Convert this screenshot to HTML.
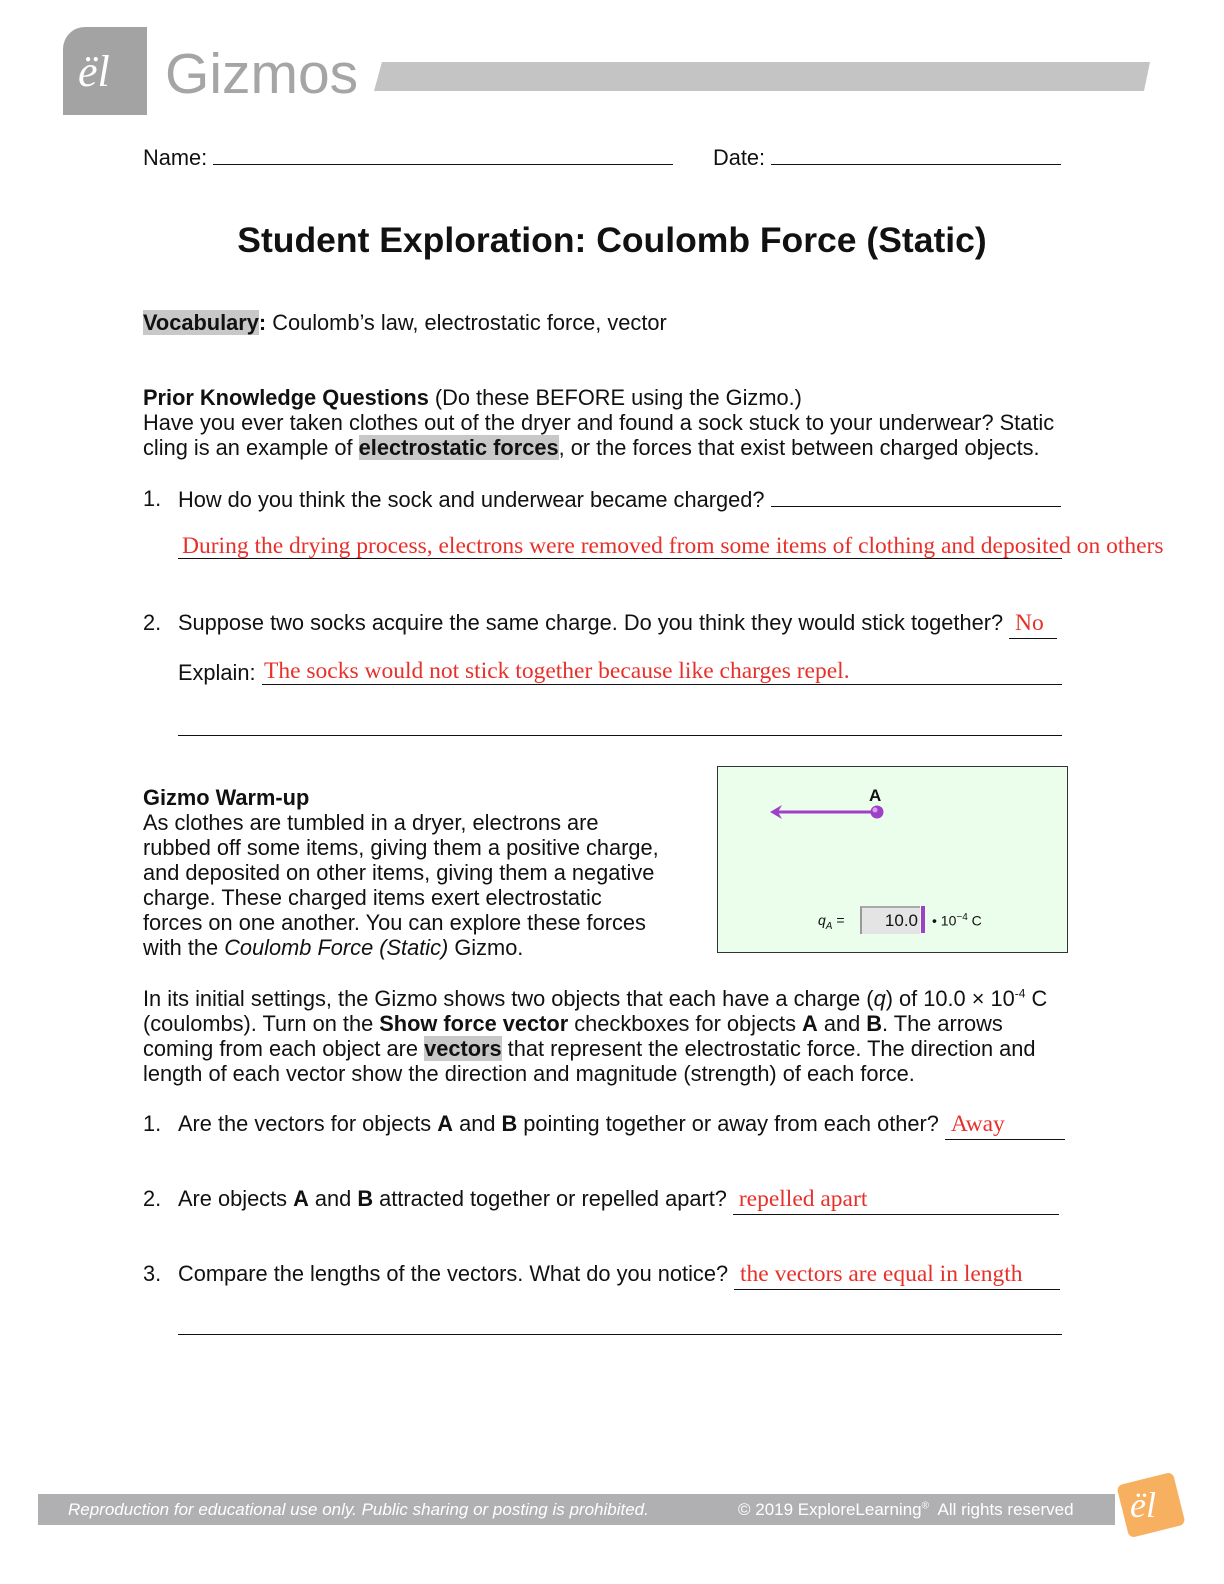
<!DOCTYPE html>
<html><head><meta charset="utf-8"><style>
body{margin:0;width:1224px;height:1584px;background:#fff;position:relative;font-family:"Liberation Sans",Arial,sans-serif;font-size:21.8px;color:#111;overflow:hidden}
.a{position:absolute;white-space:nowrap;line-height:29px}
.r{color:#e8302a;font-family:"Liberation Serif",serif;font-size:23.5px}
.u{border-bottom:1px solid #111}
.hl{background:#c8c8c8}
</style></head><body>
<div style="position:absolute;left:63px;top:27px;width:84px;height:88px;background:#a3a3a3;border-top-left-radius:22px"></div>
<div class="a" style="left:78px;top:50px;font-family:'Liberation Serif',serif;font-style:italic;font-size:44px;color:#fff;line-height:44px">ël</div>
<div class="a" style="left:165px;top:44px;font-size:57px;color:#a5a5a5;line-height:60px">Gizmos</div>
<div style="position:absolute;left:374px;top:62px;width:776px;height:29px;background:#c4c4c4;clip-path:polygon(8px 0,100% 0,calc(100% - 6px) 100%,0 100%)"></div>

<div class="a" style="left:143px;top:142px">Name: <span class="u" style="display:inline-block;width:460px;height:22px"></span></div>
<div class="a" style="left:713px;top:142px">Date: <span class="u" style="display:inline-block;width:290px;height:22px"></span></div>

<div class="a" style="left:0;width:1224px;text-align:center;top:220px;font-size:35.5px;font-weight:bold;line-height:40px">Student Exploration: Coulomb Force (Static)</div>

<div class="a" style="left:143px;top:308px"><b class="hl">Vocabulary</b><b>:</b> Coulomb’s law, electrostatic force, vector</div>

<div class="a" style="left:143px;top:383px"><b>Prior Knowledge Questions</b> (Do these BEFORE using the Gizmo.)</div>
<div class="a" style="left:143px;top:408px">Have you ever taken clothes out of the dryer and found a sock stuck to your underwear? Static</div>
<div class="a" style="left:143px;top:433px">cling is an example of <b class="hl">electrostatic forces</b>, or the forces that exist between charged objects.</div>

<div class="a" style="left:143px;top:484px">1.</div>
<div class="a" style="left:178px;top:484px">How do you think the sock and underwear became charged? <span class="u" style="display:inline-block;width:290px;height:22px"></span></div>
<div style="position:absolute;left:178px;top:558px;width:884px;border-top:1px solid #111"></div>
<div class="a r" style="left:182px;top:532px">During the drying process, electrons were removed from some items of clothing and deposited on others</div>

<div class="a" style="left:143px;top:608px">2.</div>
<div class="a" style="left:178px;top:608px">Suppose two socks acquire the same charge. Do you think they would stick together? <span class="u r" style="display:inline-block;width:48px">&nbsp;No</span></div>
<div class="a" style="left:178px;top:658px">Explain: </div>
<div style="position:absolute;left:262px;top:684px;width:800px;border-top:1px solid #111"></div>
<div class="a r" style="left:264px;top:657px">The socks would not stick together because like charges repel.</div>
<div style="position:absolute;left:178px;top:735px;width:884px;border-top:1px solid #111"></div>

<div class="a" style="left:143px;top:783px"><b>Gizmo Warm-up</b></div>
<div class="a" style="left:143px;top:808px">As clothes are tumbled in a dryer, electrons are</div>
<div class="a" style="left:143px;top:833px">rubbed off some items, giving them a positive charge,</div>
<div class="a" style="left:143px;top:858px">and deposited on other items, giving them a negative</div>
<div class="a" style="left:143px;top:883px">charge. These charged items exert electrostatic</div>
<div class="a" style="left:143px;top:908px">forces on one another. You can explore these forces</div>
<div class="a" style="left:143px;top:933px">with the <i>Coulomb Force (Static)</i> Gizmo.</div>

<div style="position:absolute;left:717px;top:766px;width:349px;height:185px;background:#ebfdeb;border:1.5px solid #333"></div>
<div class="a" style="left:869px;top:781px;font-weight:bold;font-size:17px">A</div>
<svg style="position:absolute;left:760px;top:800px" width="130" height="25"><line x1="14" y1="12" x2="116" y2="12" stroke="#a040c8" stroke-width="3"/><path d="M10 12 L22 5 L18 12 L22 19Z" fill="#a040c8"/><circle cx="117" cy="12" r="6.5" fill="#a040c8"/><circle cx="115" cy="10" r="2.5" fill="#d8a0f0"/></svg>
<div class="a" style="left:818px;top:906px;font-size:14px"><i>q<sub style="font-size:10px">A</sub></i> =</div>
<div style="position:absolute;left:860px;top:906px;width:56px;height:26px;background:#e4e4e4;border-left:2px solid #999;border-top:2px solid #aaa;font-size:17px;text-align:right;line-height:26px;padding-right:2px">10.0</div>
<div style="position:absolute;left:921px;top:906px;width:4px;height:27px;background:#a040c8"></div>
<div class="a" style="left:932px;top:903px;font-size:14px">• 10<sup style="font-size:10px">−4</sup> C</div>

<div class="a" style="left:143px;top:984px">In its initial settings, the Gizmo shows two objects that each have a charge (<i>q</i>) of 10.0 × 10<sup style="font-size:12px;line-height:0">-4</sup> C</div>
<div class="a" style="left:143px;top:1009px">(coulombs). Turn on the <b>Show force vector</b> checkboxes for objects <b>A</b> and <b>B</b>. The arrows</div>
<div class="a" style="left:143px;top:1034px">coming from each object are <b class="hl">vectors</b> that represent the electrostatic force. The direction and</div>
<div class="a" style="left:143px;top:1059px">length of each vector show the direction and magnitude (strength) of each force.</div>

<div class="a" style="left:143px;top:1109px">1.</div>
<div class="a" style="left:178px;top:1109px">Are the vectors for objects <b>A</b> and <b>B</b> pointing together or away from each other? <span class="u r" style="display:inline-block;width:120px">&nbsp;Away</span></div>
<div class="a" style="left:143px;top:1184px">2.</div>
<div class="a" style="left:178px;top:1184px">Are objects <b>A</b> and <b>B</b> attracted together or repelled apart? <span class="u r" style="display:inline-block;width:326px">&nbsp;repelled apart</span></div>
<div class="a" style="left:143px;top:1259px">3.</div>
<div class="a" style="left:178px;top:1259px">Compare the lengths of the vectors. What do you notice? <span class="u r" style="display:inline-block;width:326px">&nbsp;the vectors are equal in length</span></div>
<div style="position:absolute;left:178px;top:1334px;width:884px;border-top:1px solid #111"></div>

<div style="position:absolute;left:38px;top:1494px;width:1077px;height:31px;background:#b0b0b3"></div>
<div class="a" style="left:68px;top:1495px;font-style:italic;font-size:17px;color:#fff">Reproduction for educational use only. Public sharing or posting is prohibited.</div>
<div class="a" style="left:738px;top:1495px;font-size:17px;color:#fff">© 2019 ExploreLearning<sup style="font-size:10px;line-height:0">®</sup>&nbsp; All rights reserved</div>
<div style="position:absolute;left:1122px;top:1478px;width:58px;height:54px;background:#f7b060;border-radius:6px;transform:rotate(-14deg)"></div>
<div class="a" style="left:1130px;top:1485px;font-family:'Liberation Serif',serif;font-style:italic;font-size:36px;color:#fff;line-height:40px">ël</div>
</body></html>
